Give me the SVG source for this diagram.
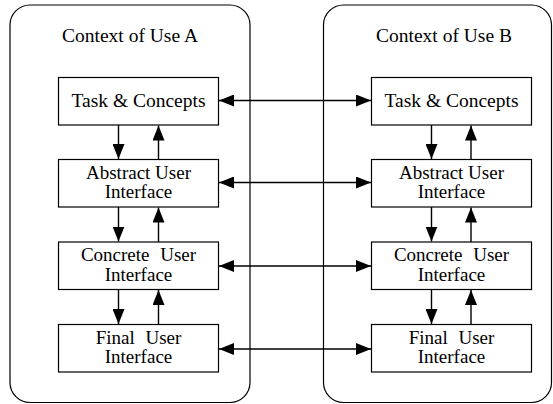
<svg xmlns="http://www.w3.org/2000/svg" width="553" height="404" viewBox="0 0 553 404">
<style>
.ctx{fill:#fff;stroke:#000;stroke-width:1.2}
.box{fill:#fff;stroke:#000;stroke-width:1.2}
text{font-family:"Liberation Serif","Times New Roman",serif;font-size:19.5px;fill:#000;text-anchor:middle}
.t2{font-size:19px}
.ws{word-spacing:6px}
.c line{stroke:#000;stroke-width:1.4}
</style>
<defs>
<marker id="ah" markerUnits="userSpaceOnUse" markerWidth="16" markerHeight="12" viewBox="0 0 16 12" refX="15" refY="6" orient="auto-start-reverse">
<path d="M0,0 L15,6 L0,12 Z" fill="#000"/>
</marker>
</defs>
<rect width="553" height="404" fill="#fff"/>
<g id="contextA">
<rect class="ctx" x="10" y="5" width="240" height="397.5" rx="20"/>
<text x="130" y="42">Context of Use A</text>
</g>
<g id="contextB">
<rect class="ctx" x="323.5" y="5" width="228" height="397.5" rx="20"/>
<text x="444" y="42">Context of Use B</text>
</g>
<g id="taskA"><rect class="box" x="58.5" y="77.5" width="160" height="47.5"/><text x="138.5" y="106.5">Task &amp; Concepts</text></g>
<g id="abstractA"><rect class="box" x="58.5" y="159.5" width="160" height="47.5"/><text class="t2" x="138.5" y="178.5">Abstract User</text><text class="t2" x="138.5" y="198">Interface</text></g>
<g id="concreteA"><rect class="box" x="58.5" y="242" width="160" height="47.5"/><text class="t2 ws" x="138.5" y="261">Concrete User</text><text class="t2" x="138.5" y="280.5">Interface</text></g>
<g id="finalA"><rect class="box" x="58.5" y="324.5" width="160" height="47.5"/><text class="t2 ws" x="138.5" y="343.5">Final User</text><text class="t2" x="138.5" y="363">Interface</text></g>
<g id="taskB"><rect class="box" x="371.5" y="77.5" width="160" height="47.5"/><text x="451.5" y="106.5">Task &amp; Concepts</text></g>
<g id="abstractB"><rect class="box" x="371.5" y="159.5" width="160" height="47.5"/><text class="t2" x="451.5" y="178.5">Abstract User</text><text class="t2" x="451.5" y="198">Interface</text></g>
<g id="concreteB"><rect class="box" x="371.5" y="242" width="160" height="47.5"/><text class="t2 ws" x="451.5" y="261">Concrete User</text><text class="t2" x="451.5" y="280.5">Interface</text></g>
<g id="finalB"><rect class="box" x="371.5" y="324.5" width="160" height="47.5"/><text class="t2 ws" x="451.5" y="343.5">Final User</text><text class="t2" x="451.5" y="363">Interface</text></g>
<g class="c" id="connectors">
<line x1="219" y1="100.5" x2="371" y2="100.5" marker-start="url(#ah)" marker-end="url(#ah)"/>
<line x1="219" y1="182.5" x2="371" y2="182.5" marker-start="url(#ah)" marker-end="url(#ah)"/>
<line x1="219" y1="266" x2="371" y2="266" marker-start="url(#ah)" marker-end="url(#ah)"/>
<line x1="219" y1="349" x2="371" y2="349" marker-start="url(#ah)" marker-end="url(#ah)"/>
<line x1="118.5" y1="125" x2="118.5" y2="159" marker-end="url(#ah)"/>
<line x1="158.5" y1="159.5" x2="158.5" y2="125.5" marker-end="url(#ah)"/>
<line x1="118.5" y1="207" x2="118.5" y2="241.5" marker-end="url(#ah)"/>
<line x1="158.5" y1="242" x2="158.5" y2="207.5" marker-end="url(#ah)"/>
<line x1="118.5" y1="289.5" x2="118.5" y2="324" marker-end="url(#ah)"/>
<line x1="158.5" y1="324.5" x2="158.5" y2="290" marker-end="url(#ah)"/>
<line x1="431.5" y1="125" x2="431.5" y2="159" marker-end="url(#ah)"/>
<line x1="471" y1="159.5" x2="471" y2="125.5" marker-end="url(#ah)"/>
<line x1="431.5" y1="207" x2="431.5" y2="241.5" marker-end="url(#ah)"/>
<line x1="471" y1="242" x2="471" y2="207.5" marker-end="url(#ah)"/>
<line x1="431.5" y1="289.5" x2="431.5" y2="324" marker-end="url(#ah)"/>
<line x1="471" y1="324.5" x2="471" y2="290" marker-end="url(#ah)"/>
</g>
</svg>
